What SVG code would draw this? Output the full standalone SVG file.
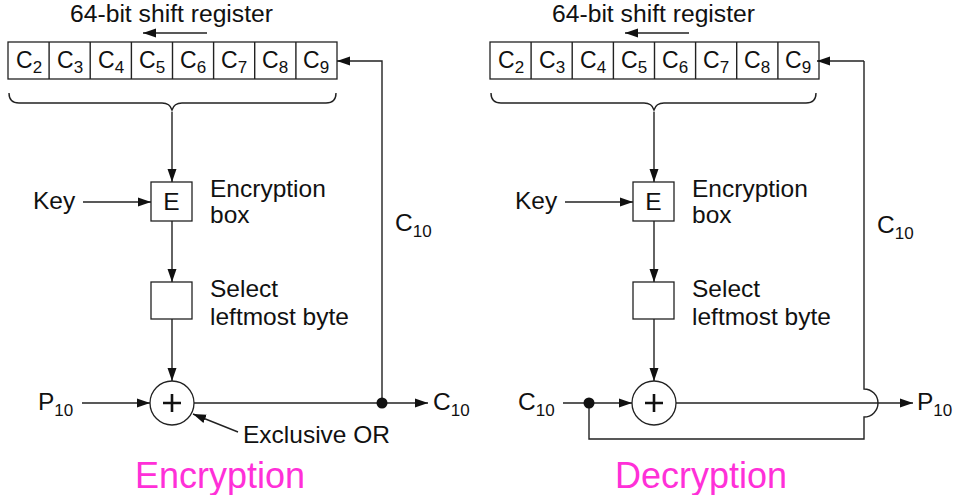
<svg xmlns="http://www.w3.org/2000/svg" width="956" height="495" viewBox="0 0 956 495">
<style>
text{font-family:"Liberation Sans",Arial,sans-serif;fill:#111}
.lbl{font-size:24.5px}
.cell{font-size:23px}
.sub{font-size:17px}
.ttl{font-size:23.5px}
.big{font-size:36px;fill:#ff30d8}
.box{fill:#fff;stroke:#222;stroke-width:1.3}
.ln{fill:none;stroke:#222;stroke-width:1.4}
.arr{fill:none;stroke:#222;stroke-width:1.4;marker-end:url(#ah)}
</style>
<defs>
<marker id="ah" markerUnits="userSpaceOnUse" markerWidth="14" markerHeight="10" refX="13" refY="5" orient="auto">
<path d="M0,0.5 L13,5 L0,9.5 Z" fill="#111"/>
</marker>
<g id="reg">
<rect class="box" x="0" y="0" width="329" height="37"/>
<path class="ln" d="M41.1,0V37M82.2,0V37M123.4,0V37M164.5,0V37M205.6,0V37M246.7,0V37M287.9,0V37"/>
<text class="cell" x="8" y="26">C<tspan class="sub" dy="5">2</tspan></text>
<text class="cell" x="49" y="26">C<tspan class="sub" dy="5">3</tspan></text>
<text class="cell" x="90" y="26">C<tspan class="sub" dy="5">4</tspan></text>
<text class="cell" x="131" y="26">C<tspan class="sub" dy="5">5</tspan></text>
<text class="cell" x="172" y="26">C<tspan class="sub" dy="5">6</tspan></text>
<text class="cell" x="213" y="26">C<tspan class="sub" dy="5">7</tspan></text>
<text class="cell" x="254" y="26">C<tspan class="sub" dy="5">8</tspan></text>
<text class="cell" x="295" y="26">C<tspan class="sub" dy="5">9</tspan></text>
</g>
</defs>

<!-- Encryption side -->
<g id="enc-register">
<text class="ttl" x="70" y="22" textLength="203" lengthAdjust="spacingAndGlyphs">64-bit shift register</text>
<use href="#reg" x="8" y="42"/>
<path class="ln" d="M9,93 Q9,103 19,103 H162 Q170,103 172,110 Q174,103 182,103 H326 Q336,103 336,93"/>
</g>
<g id="enc-ebox">
<rect class="box" x="151" y="182" width="41" height="39"/>
<text class="lbl" x="171.5" y="210" text-anchor="middle">E</text>
<text class="lbl" x="210" y="197">Encryption</text>
<text class="lbl" x="210" y="223">box</text>
</g>
<g id="enc-select">
<rect class="box" x="151" y="282" width="41" height="37"/>
<text class="lbl" x="210" y="297">Select</text>
<text class="lbl" x="210" y="325">leftmost byte</text>
</g>
<g id="enc-xor">
<circle class="box" cx="172" cy="403" r="22"/>
<path d="M172,394V412M163,403H181" stroke="#111" stroke-width="2.6"/>
</g>
<g id="enc-labels">
<text class="lbl" x="33" y="209">Key</text>
<text class="lbl" x="38" y="410">P<tspan class="sub" dy="6">10</tspan></text>
<text class="lbl" x="433" y="410">C<tspan class="sub" dy="6">10</tspan></text>
<text class="lbl" x="395" y="231">C<tspan class="sub" dy="6">10</tspan></text>
<text class="lbl" x="243" y="443">Exclusive OR</text>
<text class="big" x="135" y="488">Encryption</text>
</g>

<!-- Decryption side -->
<g id="dec-register">
<text class="ttl" x="552" y="22" textLength="203" lengthAdjust="spacingAndGlyphs">64-bit shift register</text>
<use href="#reg" x="490" y="42"/>
<path class="ln" d="M491,93 Q491,103 501,103 H644 Q652,103 654,110 Q656,103 664,103 H806 Q816,103 816,93"/>
</g>
<g id="dec-ebox">
<rect class="box" x="633" y="182" width="41" height="39"/>
<text class="lbl" x="653.5" y="210" text-anchor="middle">E</text>
<text class="lbl" x="692" y="197">Encryption</text>
<text class="lbl" x="692" y="223">box</text>
</g>
<g id="dec-select">
<rect class="box" x="633" y="282" width="41" height="37"/>
<text class="lbl" x="692" y="297">Select</text>
<text class="lbl" x="692" y="325">leftmost byte</text>
</g>
<g id="dec-xor">
<circle class="box" cx="654" cy="403" r="22"/>
<path d="M654,394V412M645,403H663" stroke="#111" stroke-width="2.6"/>
</g>
<g id="dec-labels">
<text class="lbl" x="515" y="209">Key</text>
<text class="lbl" x="518" y="410">C<tspan class="sub" dy="6">10</tspan></text>
<text class="lbl" x="917" y="410">P<tspan class="sub" dy="6">10</tspan></text>
<text class="lbl" x="877" y="233">C<tspan class="sub" dy="6">10</tspan></text>
<text class="big" x="615" y="488">Decryption</text>
</g>

<g id="connectors">
<!-- encryption -->
<path class="arr" d="M207,33H143"/>
<path class="arr" d="M172,112V182"/>
<path class="arr" d="M83,202H151"/>
<path class="arr" d="M172,221V282"/>
<path class="arr" d="M172,319V381"/>
<path class="arr" d="M82,403H150"/>
<path class="arr" d="M194,403H428"/>
<path class="arr" d="M382,403V61H337"/>
<circle cx="382" cy="403" r="5.5" fill="#111"/>
<path class="arr" d="M238,432L193,414"/>
<!-- decryption -->
<path class="arr" d="M689,33H625"/>
<path class="arr" d="M654,112V182"/>
<path class="arr" d="M565,202H633"/>
<path class="arr" d="M654,221V282"/>
<path class="arr" d="M654,319V381"/>
<path class="arr" d="M563,403H632"/>
<path class="arr" d="M676,403H913"/>
<path class="ln" d="M589,403V439H864V417A14,14 0 0 0 864,389V61"/>
<path class="arr" d="M864,61H817"/>
<circle cx="589" cy="403" r="5.5" fill="#111"/>
</g>
</svg>
